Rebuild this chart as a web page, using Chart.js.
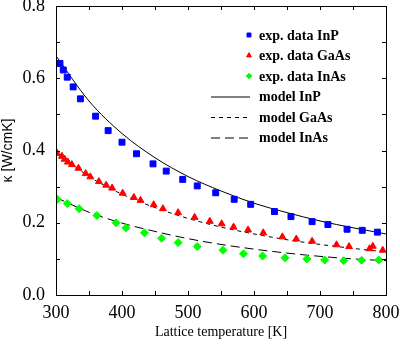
<!DOCTYPE html>
<html>
<head>
<meta charset="utf-8">
<script src="https://cdn.jsdelivr.net/npm/chart.js@4.4.1/dist/chart.umd.min.js"></script>
<style>
  html, body { margin: 0; padding: 0; background: #fff; }
</style>
</head>
<body>
<canvas id="myChart" width="400" height="346"></canvas>
<script>
// measured points (temperature in K, kappa in W/cmK)
var inpT = [306, 311, 317, 326, 337, 360, 379, 400, 422, 447, 467, 492, 514, 542, 570, 595, 631, 656, 688, 712, 741, 764, 787];
var inpK = [0.641, 0.623, 0.603, 0.576, 0.543, 0.495, 0.455, 0.423, 0.391, 0.363, 0.343, 0.320, 0.302, 0.283, 0.265, 0.251, 0.231, 0.217, 0.203, 0.195, 0.182, 0.179, 0.174];

var gaasT = [302, 309, 313, 318, 324, 334, 345, 352, 365, 376, 385, 401, 418, 428, 448, 462, 485, 510, 533, 551, 569, 591, 614, 643, 664, 688, 725, 744, 775, 780, 795];
var gaasK = [0.392, 0.384, 0.376, 0.368, 0.361, 0.351, 0.336, 0.327, 0.314, 0.304, 0.296, 0.282, 0.270, 0.262, 0.250, 0.239, 0.228, 0.215, 0.204, 0.197, 0.188, 0.180, 0.172, 0.161, 0.155, 0.149, 0.139, 0.134, 0.128, 0.135, 0.124];

var inasT = [302, 317, 335, 362, 391, 406, 434, 460, 485, 514, 553, 584, 613, 647, 680, 707, 736, 763, 789];
var inasK = [0.265, 0.253, 0.239, 0.220, 0.200, 0.186, 0.172, 0.157, 0.145, 0.134, 0.124, 0.114, 0.108, 0.103, 0.100, 0.097, 0.095, 0.096, 0.097];

// model curves
var modelT = [300, 350, 400, 450, 500, 550, 600, 650, 700, 750, 800];
var modelInP = [0.662, 0.537, 0.447, 0.380, 0.328, 0.288, 0.254, 0.228, 0.205, 0.186, 0.169];
var modelGaAs = [0.397, 0.328, 0.279, 0.242, 0.212, 0.188, 0.169, 0.153, 0.140, 0.129, 0.119];
var modelInAs = [0.270, 0.229, 0.199, 0.176, 0.156, 0.140, 0.127, 0.116, 0.107, 0.100, 0.095];

var xMinorTicks = [300, 350, 400, 450, 500, 550, 600, 650, 700, 750, 800];
var yMinorTicks = [0, 0.1, 0.2, 0.3, 0.4, 0.5, 0.6, 0.7, 0.8];

function toPoints(xs, ys) {
  var out = [];
  for (var i = 0; i < xs.length; i++) {
    out.push({ x: xs[i], y: ys[i] });
  }
  return out;
}

function expSet(label, xs, ys, color, style, radius) {
  return {
    label: label,
    data: toPoints(xs, ys),
    showLine: false,
    pointStyle: style,
    pointRadius: radius,
    backgroundColor: color,
    borderColor: color,
    pointBorderWidth: 1
  };
}

function modelSet(label, ys, dash) {
  return {
    label: label,
    data: toPoints(modelT, ys),
    showLine: true,
    borderColor: '#000000',
    borderWidth: 1,
    borderDash: dash,
    pointRadius: 0,
    cubicInterpolationMode: 'monotone',
    fill: false
  };
}

// box round the plot with inward ticks on all four sides
var framePlugin = {
  id: 'frame',
  afterDatasetsDraw: function(chart) {
    var ctx = chart.ctx;
    var a = chart.chartArea;
    var xs = chart.scales.x;
    var ys = chart.scales.y;
    var len = 4;
    ctx.save();
    ctx.strokeStyle = '#000000';
    ctx.lineWidth = 1;
    ctx.setLineDash([]);
    ctx.strokeRect(Math.round(a.left) + 0.5, Math.round(a.top) + 0.5,
                   Math.round(a.right - a.left), Math.round(a.bottom - a.top));
    ctx.beginPath();
    for (var i = 0; i < xMinorTicks.length; i++) {
      var px = Math.round(xs.getPixelForValue(xMinorTicks[i])) + 0.5;
      ctx.moveTo(px, a.bottom);
      ctx.lineTo(px, a.bottom - len);
      ctx.moveTo(px, a.top);
      ctx.lineTo(px, a.top + len);
    }
    for (var j = 0; j < yMinorTicks.length; j++) {
      var py = Math.round(ys.getPixelForValue(yMinorTicks[j])) + 0.5;
      ctx.moveTo(a.left, py);
      ctx.lineTo(a.left + len, py);
      ctx.moveTo(a.right, py);
      ctx.lineTo(a.right - len, py);
    }
    ctx.stroke();
    ctx.restore();
  }
};

// legend drawn inside the plot, samples on the left of the text
var legendPlugin = {
  id: 'innerLegend',
  afterDraw: function(chart) {
    var ctx = chart.ctx;
    var sets = chart.data.datasets;
    var rowY = 35;
    var step = 20.5;
    ctx.save();
    ctx.font = 'bold 14px "Liberation Serif", "Times New Roman", serif';
    ctx.textBaseline = 'middle';
    ctx.textAlign = 'left';
    for (var i = 0; i < sets.length; i++) {
      var ds = sets[i];
      var y = rowY + i * step;
      if (ds.showLine) {
        ctx.strokeStyle = '#000000';
        ctx.lineWidth = 1;
        ctx.setLineDash(ds.borderDash || []);
        ctx.beginPath();
        ctx.moveTo(211, y + 0.5);
        ctx.lineTo(250, y + 0.5);
        ctx.stroke();
        ctx.setLineDash([]);
      } else {
        ctx.fillStyle = ds.backgroundColor;
        ctx.strokeStyle = ds.borderColor;
        Chart.helpers.drawPoint(ctx, { pointStyle: ds.pointStyle, radius: 2.8, borderWidth: 1 }, 249, y);
      }
      ctx.fillStyle = '#000000';
      ctx.fillText(ds.label, 259, y + 1);
    }
    ctx.restore();
  }
};

var chart = new Chart(document.getElementById('myChart'), {
  type: 'scatter',
  data: {
    datasets: [
      expSet('exp. data InP', inpT, inpK, '#0000ff', 'rect', 4.2),
      expSet('exp. data GaAs', gaasT, gaasK, '#ff0000', 'triangle', 4),
      expSet('exp. data InAs', inasT, inasK, '#00ff00', 'rectRot', 4),
      modelSet('model InP', modelInP, []),
      modelSet('model GaAs', modelGaAs, [4, 4]),
      modelSet('model InAs', modelInAs, [9, 5])
    ]
  },
  options: {
    responsive: false,
    animation: false,
    events: [],
    devicePixelRatio: 1,
    layout: {
      padding: { top: 6, right: 14, left: 0, bottom: 0 }
    },
    scales: {
      x: {
        type: 'linear',
        min: 300,
        max: 800,
        grid: { display: false, drawTicks: false },
        border: { display: false },
        ticks: {
          stepSize: 100,
          padding: 7,
          color: '#000000',
          font: { family: '"Liberation Serif", "Times New Roman", serif', size: 18 }
        },
        title: {
          display: true,
          text: 'Lattice temperature [K]',
          color: '#000000',
          padding: { top: 0, bottom: 5 },
          font: { family: '"Liberation Serif", "Times New Roman", serif', size: 14 }
        },
        afterFit: function(scale) {
          scale.height = 51;
          scale.paddingLeft = 0;
          scale.paddingRight = 0;
        }
      },
      y: {
        type: 'linear',
        min: 0,
        max: 0.8,
        grid: { display: false, drawTicks: false },
        border: { display: false },
        ticks: {
          stepSize: 0.2,
          padding: 11,
          color: '#000000',
          font: { family: '"Liberation Serif", "Times New Roman", serif', size: 18 },
          callback: function(value) { return value.toFixed(1); }
        },
        title: {
          display: true,
          text: 'κ [W/cmK]',
          color: '#000000',
          padding: { top: 0, bottom: 0 },
          font: { family: '"Liberation Sans", "DejaVu Sans", sans-serif', size: 14 }
        },
        afterFit: function(scale) {
          scale.width = 56;
          scale.paddingTop = 0;
          scale.paddingBottom = 0;
        }
      }
    },
    plugins: {
      legend: { display: false },
      tooltip: { enabled: false }
    }
  },
  plugins: [framePlugin, legendPlugin]
});
</script>
</body>
</html>
